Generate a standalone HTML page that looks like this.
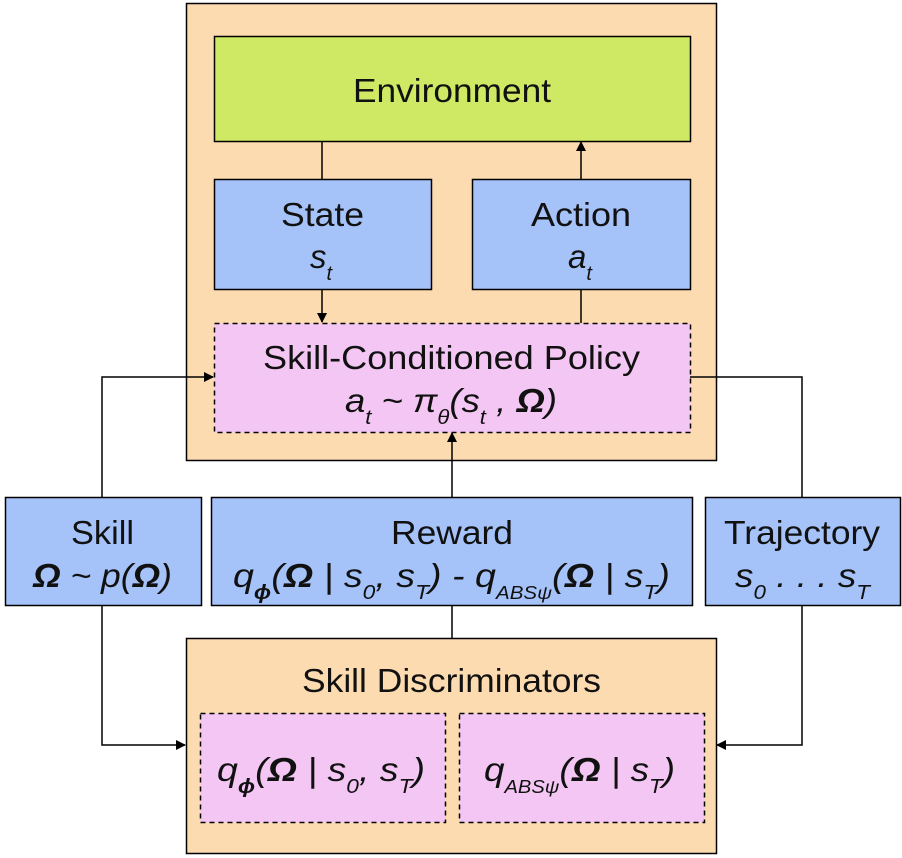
<!DOCTYPE html>
<html><head><meta charset="utf-8"><style>
body{margin:0;background:#fff}
svg{display:block}
text{font-family:"Liberation Sans",Arial,sans-serif;fill:#111}
</style></head><body>
<svg width="902" height="858" viewBox="0 0 902 858" xmlns="http://www.w3.org/2000/svg">
<defs><marker id="a" markerWidth="10" markerHeight="10" refX="9" refY="5" orient="auto" markerUnits="userSpaceOnUse"><path d="M0,0 L10,5 L0,10 z" fill="#000"/></marker></defs>
<rect x="186.5" y="3.5" width="530" height="457" fill="#FDDBB1" stroke="#000" stroke-width="1.5"/>
<rect x="214.5" y="36.5" width="476" height="105" fill="#D0E964" stroke="#000" stroke-width="1.5"/>
<text x="353" y="102" font-size="33" textLength="198" lengthAdjust="spacingAndGlyphs">Environment</text>
<rect x="214.5" y="179.5" width="217" height="110" fill="#A5C2F9" stroke="#000" stroke-width="1.5"/>
<text x="281" y="226" font-size="33" textLength="83" lengthAdjust="spacingAndGlyphs">State</text>
<text x="310" y="268" font-size="33" font-style="italic">s<tspan font-size="20" dy="12">t</tspan></text>
<rect x="472.5" y="179.5" width="218" height="110" fill="#A5C2F9" stroke="#000" stroke-width="1.5"/>
<text x="531" y="226" font-size="33" textLength="100" lengthAdjust="spacingAndGlyphs">Action</text>
<text x="568" y="268" font-size="33" font-style="italic">a<tspan font-size="20" dy="12">t</tspan></text>
<rect x="214.5" y="323.5" width="476" height="109" fill="#F3C6F3" stroke="#000" stroke-width="1.5" stroke-dasharray="5,4"/>
<text x="263" y="369" font-size="33" textLength="377" lengthAdjust="spacingAndGlyphs">Skill-Conditioned Policy</text>
<text x="345" y="412" font-size="33" font-style="italic" textLength="212" lengthAdjust="spacingAndGlyphs">a<tspan font-size="20" dy="12">t</tspan><tspan dy="-12"> ~ π</tspan><tspan font-size="20" dy="12">θ</tspan><tspan dy="-12">(s</tspan><tspan font-size="20" dy="12">t</tspan><tspan dy="-12"> , </tspan><tspan font-weight="bold">Ω</tspan>)</text>
<rect x="5.5" y="497.5" width="196" height="108" fill="#A5C2F9" stroke="#000" stroke-width="1.5"/>
<text x="71" y="544" font-size="33" textLength="63" lengthAdjust="spacingAndGlyphs">Skill</text>
<text x="33" y="587" font-size="33" font-style="italic" textLength="139" lengthAdjust="spacingAndGlyphs"><tspan font-weight="bold">Ω</tspan> ~ p(<tspan font-weight="bold">Ω</tspan>)</text>
<rect x="211.5" y="497.5" width="481" height="108" fill="#A5C2F9" stroke="#000" stroke-width="1.5"/>
<text x="391" y="544" font-size="33" textLength="122" lengthAdjust="spacingAndGlyphs">Reward</text>
<text x="233" y="587" font-size="33" font-style="italic" textLength="437" lengthAdjust="spacingAndGlyphs">q<tspan font-size="20" dy="12" font-weight="bold">ϕ</tspan><tspan dy="-12">(</tspan><tspan font-weight="bold">Ω</tspan> | s<tspan font-size="20" dy="12">0</tspan><tspan dy="-12">, s</tspan><tspan font-size="20" dy="12">T</tspan><tspan dy="-12">) - q</tspan><tspan font-size="18" dy="12">ABSψ</tspan><tspan dy="-12">(</tspan><tspan font-weight="bold">Ω</tspan> | s<tspan font-size="20" dy="12">T</tspan><tspan dy="-12">)</tspan></text>
<rect x="705.5" y="497.5" width="195" height="108" fill="#A5C2F9" stroke="#000" stroke-width="1.5"/>
<text x="724" y="544" font-size="33" textLength="156" lengthAdjust="spacingAndGlyphs">Trajectory</text>
<text x="735" y="587" font-size="33" font-style="italic" textLength="135" lengthAdjust="spacingAndGlyphs">s<tspan font-size="20" dy="12">0</tspan><tspan dy="-12"> . . . s</tspan><tspan font-size="20" dy="12">T</tspan></text>
<rect x="186.5" y="638.5" width="530" height="215" fill="#FDDBB1" stroke="#000" stroke-width="1.5"/>
<text x="302" y="692" font-size="33" textLength="299" lengthAdjust="spacingAndGlyphs">Skill Discriminators</text>
<rect x="200.5" y="713.5" width="245" height="109" fill="#F3C6F3" stroke="#000" stroke-width="1.5" stroke-dasharray="5,4"/>
<text x="217" y="781" font-size="33" font-style="italic" textLength="208" lengthAdjust="spacingAndGlyphs">q<tspan font-size="20" dy="12" font-weight="bold">ϕ</tspan><tspan dy="-12">(</tspan><tspan font-weight="bold">Ω</tspan> | s<tspan font-size="20" dy="12">0</tspan><tspan dy="-12">, s</tspan><tspan font-size="20" dy="12">T</tspan><tspan dy="-12">)</tspan></text>
<rect x="459.5" y="713.5" width="245" height="109" fill="#F3C6F3" stroke="#000" stroke-width="1.5" stroke-dasharray="5,4"/>
<text x="484" y="781" font-size="33" font-style="italic" textLength="191" lengthAdjust="spacingAndGlyphs">q<tspan font-size="18" dy="12">ABSψ</tspan><tspan dy="-12">(</tspan><tspan font-weight="bold">Ω</tspan> | s<tspan font-size="20" dy="12">T</tspan><tspan dy="-12">)</tspan></text>
<g stroke="#000" stroke-width="1.5" fill="none">
<line x1="322" y1="141" x2="322" y2="179"/>
<line x1="322" y1="289" x2="322" y2="322" marker-end="url(#a)"/>
<line x1="581" y1="323" x2="581" y2="289"/>
<line x1="581" y1="179" x2="581" y2="142" marker-end="url(#a)"/>
<polyline points="102,497 102,377 213,377" marker-end="url(#a)"/>
<polyline points="802,497 802,377 690,377"/>
<line x1="452" y1="497" x2="452" y2="433" marker-end="url(#a)"/>
<line x1="452" y1="605" x2="452" y2="638"/>
<polyline points="102,605 102,745 185,745" marker-end="url(#a)"/>
<polyline points="802,605 802,745 717,745" marker-end="url(#a)"/>
</g>
</svg>
</body></html>
